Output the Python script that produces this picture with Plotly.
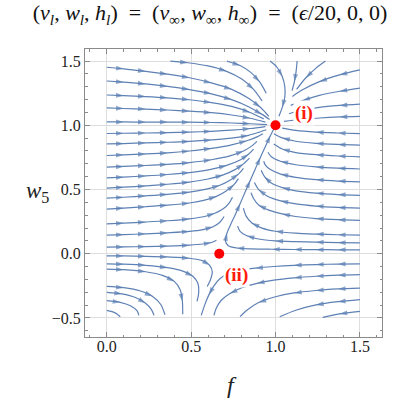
import plotly.graph_objects as go

# streamlines, each one as (f values, w values) in flow order
rows_from_left = [
    ([0, 0.10, 0.23, 0.36, 0.49, 0.62, 0.74, 0.84, 0.91, 0.96], [1.452, 1.44, 1.42, 1.398, 1.37, 1.33, 1.28, 1.21, 1.14, 1.07]),
    ([0, 0.10, 0.23, 0.36, 0.49, 0.62, 0.74, 0.84, 0.92, 0.965], [1.345, 1.336, 1.322, 1.303, 1.278, 1.245, 1.20, 1.145, 1.085, 1.045]),
    ([0, 0.10, 0.23, 0.36, 0.49, 0.62, 0.74, 0.85, 0.93], [1.236, 1.231, 1.224, 1.214, 1.199, 1.177, 1.147, 1.10, 1.05]),
    ([0, 0.10, 0.23, 0.36, 0.49, 0.62, 0.74, 0.85, 0.94], [1.135, 1.131, 1.126, 1.119, 1.11, 1.098, 1.08, 1.055, 1.025]),
    ([0, 0.10, 0.23, 0.36, 0.49, 0.62, 0.74, 0.85, 0.95], [1.026, 1.026, 1.025, 1.025, 1.024, 1.022, 1.018, 1.012, 1.005]),
    ([0, 0.10, 0.23, 0.36, 0.49, 0.62, 0.74, 0.85, 0.94], [0.936, 0.938, 0.94, 0.943, 0.947, 0.953, 0.962, 0.975, 0.99]),
    ([0, 0.10, 0.23, 0.36, 0.49, 0.62, 0.74, 0.84, 0.90, 0.945], [0.855, 0.858, 0.863, 0.868, 0.875, 0.886, 0.90, 0.922, 0.945, 0.965]),
    ([0, 0.10, 0.23, 0.36, 0.49, 0.62, 0.74, 0.83, 0.89, 0.925], [0.765, 0.77, 0.777, 0.786, 0.80, 0.82, 0.848, 0.88, 0.91, 0.935]),
    ([0, 0.10, 0.23, 0.36, 0.49, 0.62, 0.73, 0.81, 0.86, 0.89], [0.674, 0.68, 0.687, 0.696, 0.71, 0.732, 0.762, 0.80, 0.84, 0.875]),
    ([0, 0.10, 0.23, 0.36, 0.49, 0.61, 0.71, 0.79, 0.84, 0.87], [0.591, 0.597, 0.606, 0.617, 0.632, 0.655, 0.688, 0.73, 0.775, 0.815]),
    ([0, 0.10, 0.23, 0.36, 0.49, 0.60, 0.69, 0.76, 0.81, 0.845], [0.511, 0.518, 0.528, 0.541, 0.558, 0.582, 0.614, 0.655, 0.70, 0.745]),
    ([0, 0.10, 0.23, 0.36, 0.49, 0.59, 0.67, 0.73, 0.78, 0.81], [0.433, 0.44, 0.451, 0.463, 0.48, 0.503, 0.533, 0.572, 0.62, 0.665]),
    ([0, 0.10, 0.23, 0.36, 0.49, 0.58, 0.65, 0.71, 0.755, 0.78], [0.348, 0.356, 0.366, 0.378, 0.395, 0.417, 0.447, 0.49, 0.54, 0.585]),
    ([0, 0.10, 0.23, 0.36, 0.49, 0.58, 0.64, 0.69, 0.725, 0.745], [0.233, 0.239, 0.247, 0.257, 0.272, 0.29, 0.315, 0.35, 0.395, 0.44]),
    ([0, 0.10, 0.23, 0.36, 0.49, 0.57, 0.63, 0.67, 0.695], [0.145, 0.149, 0.155, 0.163, 0.174, 0.188, 0.21, 0.245, 0.29]),
    ([0, 0.10, 0.23, 0.36, 0.49, 0.57, 0.62, 0.65], [0.052, 0.053, 0.056, 0.06, 0.067, 0.076, 0.088, 0.105]),
    ([0, 0.10, 0.23, 0.36, 0.49, 0.57, 0.61, 0.625, 0.615, 0.595], [-0.016, -0.017, -0.02, -0.025, -0.035, -0.055, -0.09, -0.14, -0.20, -0.255]),
    ([0, 0.10, 0.23, 0.36, 0.45, 0.51, 0.54, 0.545, 0.535], [-0.078, -0.081, -0.09, -0.108, -0.135, -0.175, -0.23, -0.30, -0.37]),
    ([0, 0.10, 0.23, 0.33, 0.40, 0.435, 0.448, 0.45], [-0.119, -0.124, -0.14, -0.168, -0.215, -0.28, -0.37, -0.47]),
    ([0, 0.10, 0.20, 0.27, 0.32, 0.345], [-0.254, -0.264, -0.29, -0.33, -0.395, -0.475]),
    ([0, 0.09, 0.17, 0.23, 0.265, 0.28], [-0.30, -0.312, -0.34, -0.385, -0.435, -0.48]),
    ([0, 0.08, 0.14, 0.18, 0.19], [-0.365, -0.378, -0.405, -0.445, -0.48]),
    ([0, 0.05, 0.08], [-0.441, -0.46, -0.49]),
]

rows_from_top = [
    ([0.377, 0.48, 0.60, 0.71, 0.80, 0.87, 0.92], [1.5, 1.487, 1.462, 1.42, 1.36, 1.28, 1.19]),
    ([0.712, 0.79, 0.855, 0.905, 0.945], [1.5, 1.465, 1.41, 1.34, 1.25]),
    ([0.968, 1.01, 1.04, 1.055, 1.055, 1.04, 1.02], [1.5, 1.45, 1.38, 1.30, 1.22, 1.14, 1.07]),
    ([1.128, 1.122, 1.112, 1.098], [1.5, 1.42, 1.34, 1.27]),
    ([1.296, 1.24, 1.18, 1.125], [1.5, 1.445, 1.37, 1.28]),
]

rows_from_right = [
    ([1.5, 1.38, 1.26, 1.16, 1.10], [1.431, 1.392, 1.34, 1.276, 1.225]),
    ([1.5, 1.38, 1.26, 1.16, 1.09], [1.29, 1.265, 1.233, 1.192, 1.155]),
    ([1.5, 1.38, 1.26, 1.15, 1.08], [1.165, 1.155, 1.14, 1.115, 1.09]),
    ([1.5, 1.38, 1.26, 1.14, 1.05], [1.07, 1.065, 1.057, 1.045, 1.03]),
    ([1.5, 1.37, 1.24, 1.12, 1.04], [0.935, 0.94, 0.947, 0.96, 0.978]),
    ([1.5, 1.37, 1.24, 1.12, 1.04, 0.99], [0.845, 0.851, 0.86, 0.876, 0.902, 0.935]),
    ([1.5, 1.37, 1.24, 1.12, 1.04, 0.99], [0.755, 0.761, 0.771, 0.788, 0.815, 0.855]),
    ([1.5, 1.37, 1.24, 1.12, 1.03, 0.975, 0.955], [0.66, 0.666, 0.676, 0.693, 0.72, 0.755, 0.79]),
    ([1.5, 1.37, 1.24, 1.12, 1.03, 0.97, 0.94, 0.93], [0.56, 0.566, 0.577, 0.595, 0.62, 0.655, 0.69, 0.72]),
    ([1.5, 1.37, 1.24, 1.12, 1.04, 0.97, 0.935, 0.915], [0.455, 0.461, 0.472, 0.49, 0.515, 0.555, 0.60, 0.65]),
    ([1.5, 1.37, 1.24, 1.12, 1.03, 0.95, 0.90, 0.875], [0.355, 0.361, 0.371, 0.388, 0.412, 0.45, 0.50, 0.555]),
    ([1.5, 1.37, 1.24, 1.12, 1.04, 0.96, 0.90, 0.87, 0.855], [0.26, 0.265, 0.274, 0.29, 0.31, 0.34, 0.38, 0.43, 0.475]),
    ([1.5, 1.37, 1.24, 1.12, 1.0, 0.92, 0.86, 0.825, 0.81], [0.145, 0.148, 0.153, 0.16, 0.175, 0.20, 0.24, 0.295, 0.355]),
    ([1.5, 1.37, 1.24, 1.12, 1.0, 0.90, 0.83, 0.79, 0.775], [0.085, 0.087, 0.09, 0.094, 0.10, 0.115, 0.14, 0.175, 0.215]),
]

# the line that runs in along w ~ 0 and turns up into (i)
separatrix = (
    [1.5, 1.37, 1.24, 1.11, 0.98, 0.86, 0.77, 0.72, 0.703, 0.712, 0.735, 0.76, 0.79, 0.82, 0.85, 0.88, 0.91, 0.94, 0.97, 0.995],
    [0.031, 0.031, 0.032, 0.033, 0.035, 0.038, 0.045, 0.062, 0.10, 0.16, 0.23, 0.30, 0.39, 0.48, 0.57, 0.66, 0.75, 0.835, 0.92, 0.985],
)

rows_lower_right = [
    ([1.5, 1.37, 1.24, 1.11, 0.99, 0.88, 0.79, 0.72, 0.67, 0.635, 0.605, 0.58, 0.56], [-0.078, -0.08, -0.084, -0.09, -0.099, -0.112, -0.13, -0.155, -0.195, -0.25, -0.32, -0.40, -0.48]),
    ([1.5, 1.37, 1.24, 1.11, 0.99, 0.89, 0.80, 0.73, 0.68, 0.65, 0.635], [-0.163, -0.167, -0.175, -0.187, -0.205, -0.23, -0.265, -0.31, -0.36, -0.42, -0.48]),
    ([1.5, 1.37, 1.24, 1.11, 1.0, 0.90, 0.83, 0.79], [-0.267, -0.274, -0.286, -0.305, -0.335, -0.38, -0.44, -0.49]),
    ([1.5, 1.37, 1.24, 1.12, 1.025], [-0.357, -0.373, -0.398, -0.44, -0.49]),
    ([1.5, 1.38, 1.28], [-0.448, -0.468, -0.495]),
]

fixed_f = [1.0, 2 / 3]
fixed_w = [1.0, 0.0]
fixed_labels = ['(i)', '(ii)']

STREAM_COLOR = '#5e81b5'
SERIF = '"Liberation Serif", "Times New Roman", "DejaVu Serif", serif'
X_RANGE = [-0.129, 1.631]
Y_RANGE = [-0.648, 1.594]
W, H = 420, 398
MARGIN = dict(l=85, r=38, t=49, b=61)


def arrow_sizes(fs, ws, px_x, px_y, spacing=21, first=13, size=8):
    # arrowheads every ~spacing px along the line, never on the end points
    sizes = [0] * len(fs)
    acc = spacing - first
    for i in range(1, len(fs) - 1):
        acc += (((fs[i] - fs[i - 1]) * px_x) ** 2 + ((ws[i] - ws[i - 1]) * px_y) ** 2) ** 0.5
        if acc >= spacing:
            sizes[i] = size
            acc = 0
    return sizes


px_x = (W - MARGIN['l'] - MARGIN['r']) / (X_RANGE[1] - X_RANGE[0])
px_y = (H - MARGIN['t'] - MARGIN['b']) / (Y_RANGE[1] - Y_RANGE[0])

fig = go.Figure()
all_lines = rows_from_left + rows_from_top + rows_from_right + [separatrix] + rows_lower_right
for fs, ws in all_lines:
    fig.add_trace(go.Scatter(
        x=fs, y=ws, mode='lines+markers',
        line=dict(color=STREAM_COLOR, width=1.2, shape='spline', smoothing=0.8),
        marker=dict(symbol='arrow', angleref='previous', size=arrow_sizes(fs, ws, px_x, px_y),
                    color=STREAM_COLOR, line=dict(width=0)),
        hoverinfo='skip', showlegend=False,
    ))

fig.add_trace(go.Scatter(
    x=fixed_f, y=fixed_w, mode='markers',
    marker=dict(color='#ff0000', size=10, line=dict(width=0)),
    showlegend=False,
))

label_shift = [(28, 12), (17, -21)]
for f, w, text, (dx, dy) in zip(fixed_f, fixed_w, fixed_labels, label_shift):
    fig.add_annotation(
        x=f, y=w, text='<b>' + text + '</b>', showarrow=False,
        xshift=dx, yshift=dy, bgcolor='white', borderpad=1,
        font=dict(family=SERIF, size=19, color='#ff1a0a'),
    )

fig.add_annotation(
    xref='paper', yref='paper', x=0.495, y=-0.165, xanchor='center', yanchor='middle',
    text='<i>f</i>', showarrow=False,
    font=dict(family=SERIF, size=24, color='#222'),
)
fig.add_annotation(
    xref='paper', yref='paper', x=-0.16, y=0.505, xanchor='center', yanchor='middle',
    text='<i>w</i><sub>5</sub>', showarrow=False,
    font=dict(family=SERIF, size=23, color='#222'),
)

axis_style = dict(
    showgrid=True, gridcolor='#dedede', gridwidth=1, zeroline=False, automargin=False,
    showline=True, linecolor='#8a8a8a', linewidth=1, mirror='ticks',
    ticks='inside', ticklen=5, tickcolor='#8a8a8a', tickwidth=1,
    tick0=0, dtick=0.5, tickformat='.1f',
    tickfont=dict(family=SERIF, size=16, color='#222'),
    minor=dict(dtick=0.1, tick0=0, ticks='inside', ticklen=2.5, tickcolor='#8a8a8a', showgrid=False),
)

sp = '\u2002'
fig.update_layout(
    width=W, height=H, margin=MARGIN,
    paper_bgcolor='white', plot_bgcolor='white',
    title=dict(
        text='(<i>v</i><sub><i>l</i></sub>, <i>w</i><sub><i>l</i></sub>, <i>h</i><sub><i>l</i></sub>)' + sp + '=' + sp
             + '(<i>v</i><sub>∞</sub>, <i>w</i><sub>∞</sub>, <i>h</i><sub>∞</sub>)' + sp + '=' + sp
             + '(<i>ϵ</i>/20, 0, 0)',
        x=0.5, xref='container', xanchor='center',
        y=0.968, yref='container', yanchor='middle',
        font=dict(family=SERIF, size=22, color='#111'),
    ),
    xaxis=dict(range=X_RANGE, ticklabelstandoff=-5, **axis_style),
    yaxis=dict(range=Y_RANGE, **axis_style),
)

fig.write_html('out.html', config={'displayModeBar': False},
               post_script="document.body.style.margin='0';")
